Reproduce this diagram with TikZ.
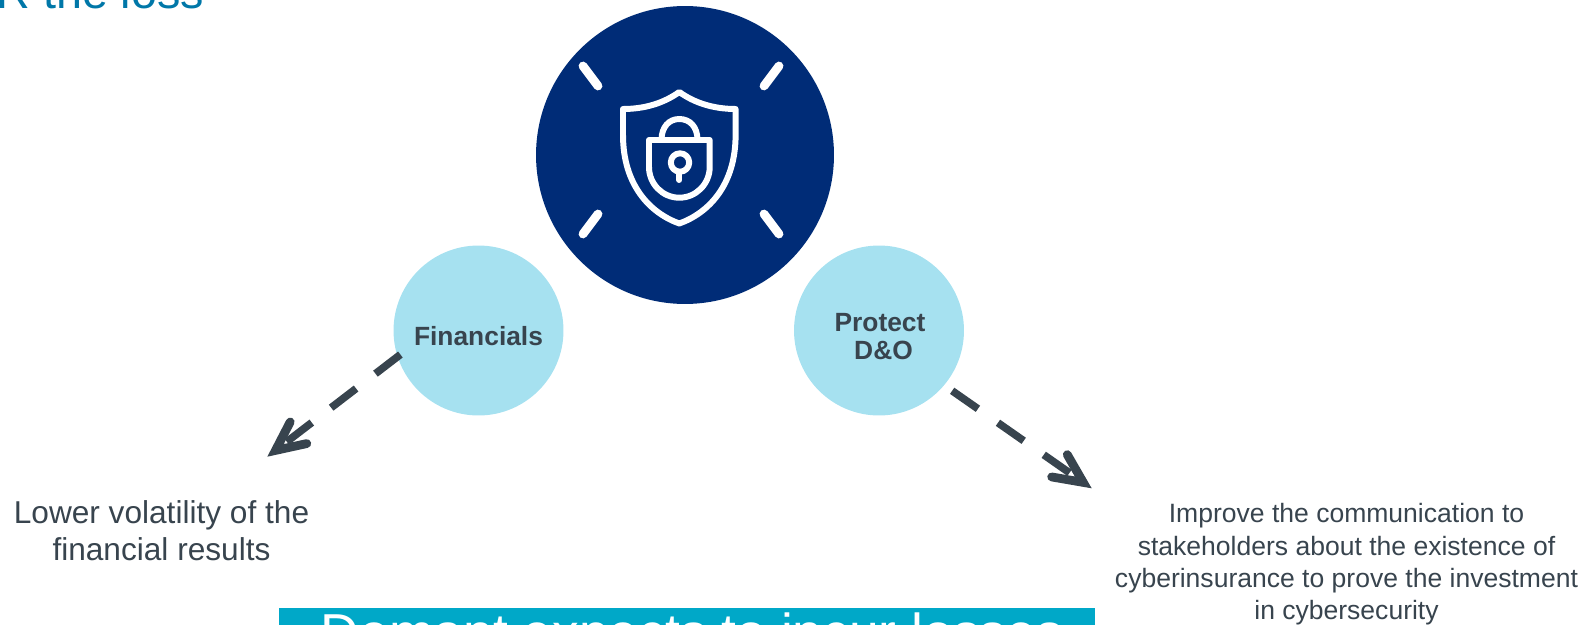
\documentclass[tikz,border=0pt]{standalone}
\usepackage{fontspec}
\setmainfont{Liberation Sans}
\usetikzlibrary{arrows.meta}

\definecolor{navy}{HTML}{002C77}
\definecolor{paleblue}{HTML}{A6E1F0}
\definecolor{teal}{HTML}{00A8C8}
\definecolor{slate}{HTML}{38444E}
\definecolor{titleblue}{HTML}{0077A8}

\tikzset{
  bigcircle/.style={circle,fill=navy,minimum size=5.96cm,inner sep=0pt},
  smallcircle/.style={circle,fill=paleblue,minimum size=3.4cm,inner sep=0pt},
  boldlabel/.style={inner sep=0pt,align=center,text=slate,font=\fontsize{15}{16.2}\selectfont\bfseries},
  textlabel/.style={inner sep=0pt,align=center,text=slate},
  iconline/.style={draw=white,line width=3.4pt,line join=round,line cap=round},
  rayline/.style={draw=white,line width=5pt,line cap=round},
  dasharrow/.style={draw=slate,line width=4.3pt,dash pattern=on 17.9pt off 13.9pt,
    -{Straight Barb[length=16.5pt,width=15.5pt,line width=5pt,line cap=round,line join=miter]}},
}

\begin{document}
\begin{tikzpicture}[x=0.02cm,y=-0.02cm]
\useasboundingbox (0,0) rectangle (1592,625);
\clip (0,0) rectangle (1592,625);

\node[anchor=base west,inner sep=0pt,text=titleblue,font=\fontsize{26.6}{30}\selectfont] (title) at (-4,9) {R the loss};

\node[bigcircle] (shield) at (685,155) {};
\node[smallcircle] (fin) at (478.5,330.5) {};
\node[smallcircle] (prot) at (879,330.5) {};
\node[boldlabel] (finlabel) at (478.5,336) {Financials};
\node[boldlabel] (protlabel) at (880,336.5) {Protect\\\hspace*{4pt}D\&O};

% shield icon
\draw[iconline] (679.3,92) .. controls (664,103) and (645,109) .. (623,109)
  -- (623,135) .. controls (623,185) and (650,213) .. (679.3,223.5)
  .. controls (708.6,213) and (735.6,185) .. (735.6,135)
  -- (735.6,109) .. controls (713.6,109) and (694.6,103) .. (679.3,92) -- cycle;
\draw[iconline] (649,140) -- (709.7,140) -- (709.7,167)
  .. controls (709.7,184) and (696,197.7) .. (679.3,197.7)
  .. controls (662.6,197.7) and (649,184) .. (649,167) -- cycle;
\draw[iconline] (661.5,140) .. controls (661.5,127) and (669,119) .. (679.3,119)
  .. controls (690,119) and (697.5,127) .. (697.5,140);
\draw[iconline] (680,162.5) circle (9.2);
\draw[iconline] (679.3,172) -- (679.3,180);

% rays
\draw[rayline] (583,66) -- (598,86);
\draw[rayline] (779,66) -- (764,86);
\draw[rayline] (583,234) -- (598,214);
\draw[rayline] (779,234) -- (764,214);

% arrows
\coordinate (finend) at (267.3,456.7);
\coordinate (protend) at (1091.7,488.3);
\draw[dasharrow,shorten <=-2.2pt] (fin.198) -- (finend);
\draw[dasharrow,shorten <=5.4pt] (prot.-40.7) -- (protend);

\node[textlabel,font=\fontsize{18}{21.3}\selectfont] (finnote) at (161.5,530.5) {Lower volatility of the\\financial results};
\node[textlabel,font=\fontsize{15.1}{18.4}\selectfont] (protnote) at (1346.5,564.5) {Improve the communication to\\stakeholders about the existence of\\cyberinsurance to prove the investment\\in cybersecurity};

\node[anchor=north west,fill=teal,text=white,minimum width=16.31cm,inner xsep=0pt,inner ysep=0.08cm,font=\fontsize{30.4}{34}\selectfont] (bar) at (279,608) {\hspace*{0.2cm}Demant expects to incur losses};
\end{tikzpicture}
\end{document}
